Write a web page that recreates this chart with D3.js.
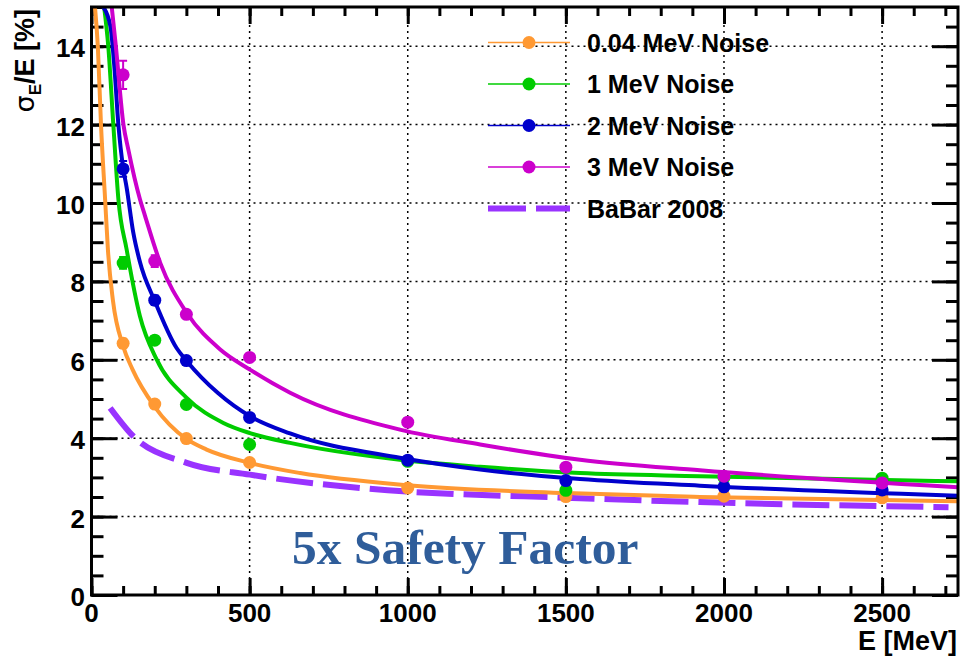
<!DOCTYPE html>
<html>
<head>
<meta charset="utf-8">
<script src="https://cdn.jsdelivr.net/npm/d3@7"></script>
<style>
  body { margin: 0; background: #fff; }
  svg text { font-family: "Liberation Sans", Arial, sans-serif; font-weight: bold; }
</style>
</head>
<body>
<div id="chart"></div>
<script>
// beam energies of the simulated points (MeV)
const energies = [100, 200, 300, 500, 1000, 1500, 2000, 2500];

// measured resolution sigma_E/E [%] per noise level
const res004 = [6.42, 4.87, 3.99, 3.38, 2.73, 2.51, 2.52, 2.48];
const res1 = [8.47, 6.5, 4.86, 3.84, 3.41, 2.67, 3.0, 2.98];
const res2 = [10.87, 7.52, 5.98, 4.53, 3.44, 2.92, 2.76, 2.68];
const res3 = [13.27, 8.52, 7.16, 6.06, 4.41, 3.26, 3.03, 2.86];

const err004 = [0.12, 0.08, 0.06, 0.05, 0.04, 0.04, 0.04, 0.04];
const err1 = [0.15, 0.1, 0.08, 0.06, 0.05, 0.05, 0.05, 0.05];
const err2 = [0.2, 0.12, 0.09, 0.07, 0.05, 0.05, 0.05, 0.05];
const err3 = [0.36, 0.15, 0.1, 0.08, 0.06, 0.05, 0.05, 0.05];

// fitted curves as [E, sigma/E]
const fit004 = [[11, 15], [20, 14.0], [30, 12.0], [43, 10.1], [52, 8.8], [68, 7.5], [100, 6.35], [130, 5.75],
  [200, 4.8], [300, 3.98], [364, 3.71], [500, 3.37], [660, 3.11], [1000, 2.8], [1500, 2.6], [1924, 2.5], [2740, 2.39]];
const fit1 = [[40, 15], [53, 14], [69, 12], [85, 10.1], [111, 8.82], [153, 7.12], [206, 6.01], [301, 5.03],
  [417, 4.39], [501, 4.13], [628, 3.88], [975, 3.45], [1229, 3.27], [1545, 3.11], [1924, 3.03], [2740, 2.9]];
const fit2 = [[37, 15], [60, 14.5], [72, 13.5], [85, 12], [100, 10.9], [111, 10.4], [132, 9.25], [153, 8.5],
  [200, 7.5], [269, 6.3], [301, 5.97], [400, 5.15], [501, 4.56], [628, 4.12], [975, 3.5],
  [1229, 3.2], [1545, 2.96], [1924, 2.79], [2740, 2.53]];
const fit3 = [[64, 15], [77, 14], [101, 12], [116, 11.38], [153, 10.1], [169, 9.68], [217, 8.48], [301, 7.2],
  [406, 6.27], [501, 5.75], [628, 5.16], [975, 4.22], [1229, 3.84], [1545, 3.45], [1924, 3.18], [2740, 2.75]];
const babar = [[59, 4.77], [132, 4.05], [301, 3.37], [501, 3.07], [849, 2.73], [1545, 2.47], [1924, 2.37], [2710, 2.24]];

const xTicks = [0, 500, 1000, 1500, 2000, 2500];
const yTicks = [0, 2, 4, 6, 8, 10, 12, 14];

const series = [
  { name: '0.04 MeV Noise', color: '#ff9933', values: res004, errors: err004, fit: fit004 },
  { name: '1 MeV Noise', color: '#00cc00', values: res1, errors: err1, fit: fit1 },
  { name: '2 MeV Noise', color: '#0000cc', values: res2, errors: err2, fit: fit2 },
  { name: '3 MeV Noise', color: '#cc00cc', values: res3, errors: err3, fit: fit3 }
];

const width = 960, height = 656;
const padL = 91.5, padR = 958, padT = 7, padB = 595;

let svg = d3.select('#chart').append('svg')
  .attr('width', width)
  .attr('height', height);

let x = d3.scaleLinear().domain([0, 2740]).range([padL, padR]);
let y = d3.scaleLinear().domain([0, 15]).range([padB, padT]);

svg.append('clipPath').attr('id', 'plot-clip')
  .append('rect')
  .attr('x', padL).attr('y', padT)
  .attr('width', padR - padL).attr('height', padB - padT);

// dotted grid
let grid = svg.append('g');
grid.selectAll('.gx')
  .data(xTicks.slice(1))
  .enter().append('line')
  .attr('x1', d => x(d)).attr('x2', d => x(d))
  .attr('y1', padT).attr('y2', padB)
  .attr('stroke', '#000').attr('stroke-width', 1.5).attr('stroke-dasharray', '2,4');
grid.selectAll('.gy')
  .data(yTicks.slice(1))
  .enter().append('line')
  .attr('y1', d => y(d)).attr('y2', d => y(d))
  .attr('x1', padL).attr('x2', padR)
  .attr('stroke', '#000').attr('stroke-width', 1.5).attr('stroke-dasharray', '2,4');

// axes, ticks inside, on all four sides
const xMinor = d3.range(0, 2741, 100);
const yMinor = d3.range(0, 15.01, 0.5);

const axisStyle = g => {
  g.select('.domain').remove();
  g.selectAll('.tick line').attr('stroke', '#000').attr('stroke-width', 3);
  g.selectAll('text').remove();
};

svg.append('g').attr('transform', `translate(0,${padB})`)
  .call(d3.axisBottom(x).tickValues(xMinor).tickSize(-9)).call(axisStyle);
svg.append('g').attr('transform', `translate(0,${padB})`)
  .call(d3.axisBottom(x).tickValues(xTicks).tickSize(-17)).call(axisStyle);
svg.append('g').attr('transform', `translate(0,${padT})`)
  .call(d3.axisTop(x).tickValues(xMinor).tickSize(-9)).call(axisStyle);
svg.append('g').attr('transform', `translate(0,${padT})`)
  .call(d3.axisTop(x).tickValues(xTicks).tickSize(-17)).call(axisStyle);
svg.append('g').attr('transform', `translate(${padL},0)`)
  .call(d3.axisLeft(y).tickValues(yMinor).tickSize(-12)).call(axisStyle);
svg.append('g').attr('transform', `translate(${padL},0)`)
  .call(d3.axisLeft(y).tickValues(yTicks).tickSize(-26)).call(axisStyle);
svg.append('g').attr('transform', `translate(${padR},0)`)
  .call(d3.axisRight(y).tickValues(yMinor).tickSize(-12)).call(axisStyle);
svg.append('g').attr('transform', `translate(${padR},0)`)
  .call(d3.axisRight(y).tickValues(yTicks).tickSize(-26)).call(axisStyle);

// tick labels
svg.append('g').selectAll('text')
  .data(xTicks)
  .enter().append('text')
  .attr('x', d => x(d)).attr('y', 622)
  .attr('text-anchor', 'middle')
  .style('font-size', '26px')
  .text(d => d);
svg.append('g').selectAll('text')
  .data(yTicks)
  .enter().append('text')
  .attr('x', 85).attr('y', d => y(d) + 11)
  .attr('text-anchor', 'end')
  .style('font-size', '26px')
  .text(d => d);

// axis titles
svg.append('text')
  .attr('x', 957).attr('y', 650)
  .attr('text-anchor', 'end')
  .style('font-size', '27px')
  .text('E [MeV]');

let yTitle = svg.append('text')
  .attr('transform', 'translate(34,9) rotate(-90)')
  .attr('text-anchor', 'end')
  .style('font-size', '27px');
yTitle.append('tspan').style('font-family', '"DejaVu Sans", sans-serif').style('font-weight', 'normal').text('σ');
yTitle.append('tspan').attr('dy', 7).style('font-size', '17px').text('E');
yTitle.append('tspan').attr('dy', -7).text('/E [%]');

// data
let plot = svg.append('g').attr('clip-path', 'url(#plot-clip)');

let line = d3.line()
  .x(d => x(d[0]))
  .y(d => y(d[1]))
  .curve(d3.curveMonotoneX);

plot.append('path')
  .datum(babar)
  .attr('d', line)
  .attr('fill', 'none')
  .attr('stroke', '#9933ff')
  .attr('stroke-width', 6)
  .attr('stroke-dasharray', '37,10');

series.forEach(s => {
  let g = plot.append('g');

  g.append('path')
    .datum(s.fit)
    .attr('d', line)
    .attr('fill', 'none')
    .attr('stroke', s.color)
    .attr('stroke-width', 4);

  let pts = energies.map((e, i) => ({ e: e, v: s.values[i], err: s.errors[i] }));

  g.selectAll('.err')
    .data(pts)
    .enter().append('path')
    .attr('d', d => {
      let px = x(d.e), y0 = y(d.v - d.err), y1 = y(d.v + d.err);
      return `M${px},${y0}V${y1}M${px - 4},${y0}H${px + 4}M${px - 4},${y1}H${px + 4}`;
    })
    .attr('fill', 'none')
    .attr('stroke', s.color)
    .attr('stroke-width', 2);

  g.selectAll('circle')
    .data(pts)
    .enter().append('circle')
    .attr('cx', d => x(d.e))
    .attr('cy', d => y(d.v))
    .attr('r', 6.5)
    .attr('fill', s.color);
});

// frame
svg.append('rect')
  .attr('x', padL).attr('y', padT)
  .attr('width', padR - padL).attr('height', padB - padT)
  .attr('fill', 'none')
  .attr('stroke', '#000')
  .attr('stroke-width', 3);

// legend
let legend = svg.append('g');
const legendY = d3.range(5).map(i => 42.5 + i * 41.5);

series.forEach((s, i) => {
  legend.append('line')
    .attr('x1', 488).attr('x2', 570)
    .attr('y1', legendY[i]).attr('y2', legendY[i])
    .attr('stroke', s.color).attr('stroke-width', 1.5);
  legend.append('circle')
    .attr('cx', 529).attr('cy', legendY[i]).attr('r', 6.5)
    .attr('fill', s.color);
  legend.append('text')
    .attr('x', 587).attr('y', legendY[i] + 9)
    .style('font-size', '25px')
    .text(s.name);
});

legend.append('line')
  .attr('x1', 488).attr('x2', 570)
  .attr('y1', legendY[4]).attr('y2', legendY[4])
  .attr('stroke', '#9933ff').attr('stroke-width', 6)
  .attr('stroke-dasharray', '38,10');
legend.append('text')
  .attr('x', 587).attr('y', legendY[4] + 9)
  .style('font-size', '25px')
  .text('BaBar 2008');

// annotation
svg.append('text')
  .attr('x', 292).attr('y', 564)
  .style('font-family', '"Liberation Serif", serif')
  .style('font-size', '49.5px')
  .attr('fill', '#2f5d9a')
  .text('5x Safety Factor');
</script>
</body>
</html>
